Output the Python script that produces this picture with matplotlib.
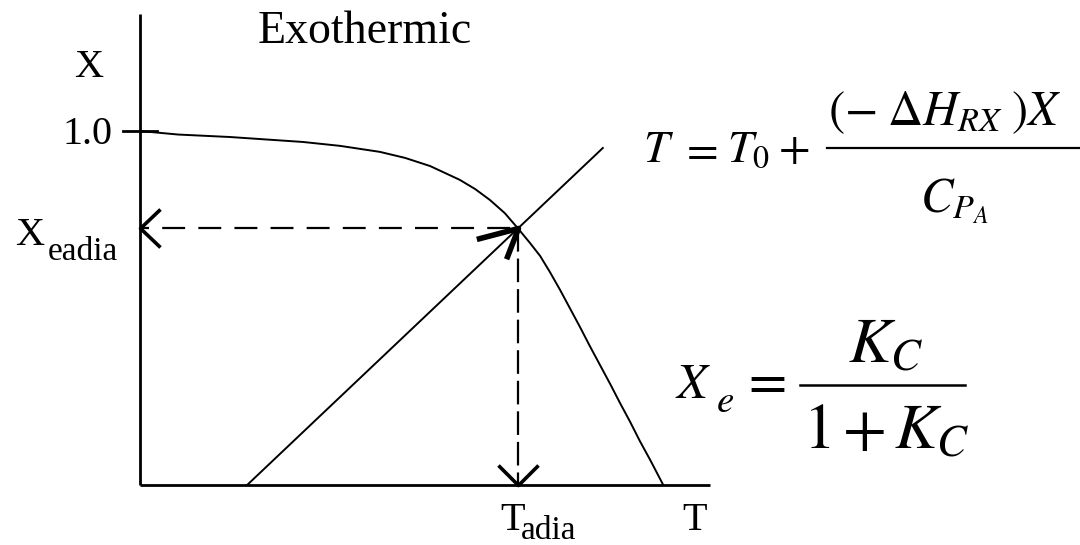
import matplotlib
matplotlib.use("Agg")
import matplotlib.pyplot as plt
from matplotlib.path import Path

plt.rcParams['mathtext.fontset'] = 'stix'
plt.rcParams['lines.scale_dashes'] = False
SERIF = ['Liberation Serif', 'DejaVu Serif']

# Equilibrium conversion X_e versus temperature (T scaled so the axis ends at 1)
T_eq = [0.000, 0.067, 0.158, 0.286, 0.351, 0.421, 0.465, 0.509, 0.561,
        0.588, 0.614, 0.640, 0.663, 0.684, 0.702, 0.719, 0.737, 0.754,
        0.772, 0.789, 0.807, 0.825, 0.842, 0.860, 0.877, 0.895, 0.918]
X_eq = [1.000, 0.990, 0.983, 0.969, 0.958, 0.941, 0.924, 0.901, 0.862,
        0.836, 0.805, 0.768, 0.725, 0.684, 0.647, 0.602, 0.551, 0.500,
        0.446, 0.393, 0.339, 0.285, 0.232, 0.178, 0.124, 0.071, 0.000]

# Adiabatic energy-balance line  T = T0 + (-dH_RX) X / Cp_A
T_eb = [0.188, 0.812]
X_eb = [0.000, 0.952]

# Adiabatic equilibrium point
T_adia = 0.663
X_eadia = 0.725

# Axes extents and the single tick
T_axis = [0.0, 1.0]
X_axis = [0.0, 1.33]
X_tick = 1.0
tick_labels = ['1.0']

W, H = 1080, 545
fig = plt.figure(figsize=(W / 100, H / 100), dpi=100)
ax = fig.add_axes([0, 0, 1, 1])
ax.set_axis_off()
# origin at (140, 485) px; 570 px per T unit, 354 px per X unit
ax.set_xlim(-140 / 570, (W - 140) / 570)
ax.set_ylim(-(H - 485) / 354, 485 / 354)


def fig_text(x, y, s, size, **kw):
    kw.setdefault('family', SERIF)
    fig.text(x / W, 1 - y / H, s, fontsize=size, ha='left', va='baseline', **kw)


def pt(px):
    return px * 0.72


# axes lines
ax.plot([0, 0], X_axis, color='black', lw=2.0, solid_capstyle='butt')
ax.plot(T_axis, [0, 0], color='black', lw=2.0, solid_capstyle='butt')
ax.plot([-0.03, 0.03], [X_tick, X_tick], color='black', lw=2.0)

# curves
ax.plot(T_eq, X_eq, color='black', lw=1.4)
ax.plot(T_eb, X_eb, color='black', lw=1.4)

# dashed guides to the axes
ax.plot([0, T_adia], [X_eadia, X_eadia], color='black', lw=1.6,
        ls=(10, (16.5, 9.5)))
ax.plot([T_adia, T_adia], [X_eadia, 0], color='black', lw=1.6,
        ls=(0, (17, 5)))

# open arrowheads
MV, LT = Path.MOVETO, Path.LINETO
left_head = Path([(1, 0.95), (0, 0), (1, -0.95)], [MV, LT, LT])
down_head = Path([(-1, 1), (0, 0), (1, 1)], [MV, LT, LT])
diag_head = Path([(-42, -11), (0, 0), (-12, -31)], [MV, LT, LT])
ax.plot([0], [X_eadia], marker=left_head, ms=28.8, mew=2.6,
        mec='black', mfc='none', ls='none')
ax.plot([T_adia], [0], marker=down_head, ms=28.8, mew=2.6,
        mec='black', mfc='none', ls='none')
ax.plot([T_adia], [X_eadia], marker=diag_head, ms=60, mew=4.0,
        mec='black', mfc='none', ls='none')

# axis labels and annotations
ax.annotate(tick_labels[0], xy=(0, X_tick), xytext=(pt(-27), pt(-13)),
            textcoords='offset points', ha='right', va='baseline',
            fontsize=29, family=SERIF)
ax.annotate('X', xy=(0, X_eadia), xytext=(pt(-125), pt(-17)),
            textcoords='offset points', ha='left', va='baseline',
            fontsize=29, family=SERIF)
ax.annotate('eadia', xy=(0, X_eadia), xytext=(pt(-92), pt(-32)),
            textcoords='offset points', ha='left', va='baseline',
            fontsize=24, family=SERIF)
ax.annotate('T', xy=(T_adia, 0), xytext=(pt(-18), pt(-45)),
            textcoords='offset points', ha='left', va='baseline',
            fontsize=29, family=SERIF)
ax.annotate('adia', xy=(T_adia, 0), xytext=(pt(3), pt(-54)),
            textcoords='offset points', ha='left', va='baseline',
            fontsize=24, family=SERIF)

fig_text(74, 77, 'X', 29)
fig_text(682, 530, 'T', 29)
fig_text(258, 43, 'Exothermic', 33)

# energy balance equation
fig_text(643, 162, r'$T$', 33)
fig_text(680, 162, r'$=$', 33)
fig_text(727, 162, r'$T_0$', 33)
fig_text(778, 162, r'$+$', 33)
fig.add_artist(plt.Line2D([827 / W, 1.0], [1 - 148 / H, 1 - 148 / H],
                          color='black', lw=1.6))
fig_text(828, 125, r'$(-\;\Delta H_{RX}\;)X$', 35)
fig_text(920, 213, r'$C_{P_A}$', 35)

# equilibrium conversion expression
fig_text(675, 398, r'$X$', 36)
fig_text(716, 412, r'$e$', 28)
fig_text(740, 397, r'$=$', 40)
fig.add_artist(plt.Line2D([800 / W, 965 / W], [1 - 385 / H, 1 - 385 / H],
                          color='black', lw=1.8))
fig_text(848, 362, r'$K_C$', 46)
fig_text(803, 448, r'$1\,{+}\,K_C$', 46)

fig.savefig('out.png', dpi=100, facecolor='white')
